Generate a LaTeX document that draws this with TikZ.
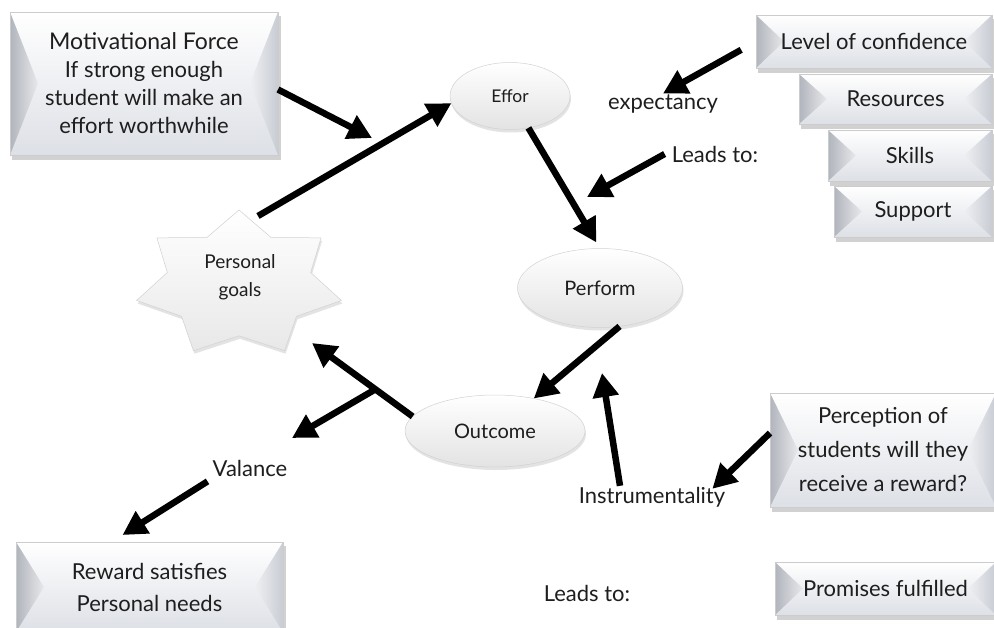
\documentclass[tikz,border=0pt]{standalone}
\usepackage{fontspec}
\setmainfont{Lato}
\usetikzlibrary{arrows.meta,shapes.geometric,shadows,calc}
\pgfdeclarelayer{background}
\pgfsetlayers{background,main}
\definecolor{txt}{HTML}{1E1E1E}
\definecolor{facebot}{HTML}{DDE0E6}
\definecolor{bevL}{HTML}{B0B4BC}
\definecolor{bevR}{HTML}{C8CCD3}
\tikzset{
 boxtxt/.style={rectangle, inner sep=0pt, outer sep=0pt, align=center, text=txt, font=\fontsize{22}{28}\selectfont},
 ell/.style={ellipse, draw=gray!35, line width=.5pt, top color=white, bottom color=gray!22, inner sep=0pt, outer sep=0pt, text=txt, font=\fontsize{20}{23}\selectfont, drop shadow={opacity=.22, shadow xshift=1pt, shadow yshift=-3pt}},
 lbl/.style={text=txt, font=\fontsize{22}{26}\selectfont, inner sep=1pt},
 arr/.style={line width=6.5pt, -{Triangle[length=24pt,width=25pt]}, black},
}
\newcommand\bevbox[6]{%
 \node[boxtxt, minimum width=#4pt, minimum height=#5pt] (#1) at (#2,#3) {#6};
 \begin{pgfonlayer}{background}
  \fill[black,opacity=.18] ([xshift=2pt,yshift=-4pt]#1.north west) rectangle ([xshift=3pt,yshift=-5pt]#1.south east);
  \shade[top color=white,bottom color=facebot] (#1.north west) rectangle (#1.south east);
  \shade[left color=bevL,right color=bevL!30!white] (#1.north west) -- ([xshift=28pt]#1.west) -- (#1.south west) -- cycle;
  \shade[left color=bevR!30!white,right color=bevR] (#1.north east) -- ([xshift=-28pt]#1.east) -- (#1.south east) -- cycle;
  \draw[gray!40,line width=.6pt] (#1.north west) rectangle (#1.south east);
 \end{pgfonlayer}}
\begin{document}
\begin{tikzpicture}[x=1pt,y=-1pt]
\useasboundingbox (0,0) rectangle (994,627);
\clip (0,0) rectangle (994,627);
\begin{pgfonlayer}{background}
\fill[white] (0,0) rectangle (994,627);
\end{pgfonlayer}

% boxes
\bevbox{mot}{144}{83.5}{268}{143}{{\fontsize{23}{28}\selectfont Motivational Force}\\If strong enough\\student will make an\\effort worthwhile}
\bevbox{conf}{874}{41.5}{236}{53}{Level of confidence}
\bevbox{res}{895.5}{99}{193}{50}{Resources}
\bevbox{skills}{910}{155.5}{164}{51}{Skills}
\bevbox{supp}{913}{211.5}{158}{51}{Support}
\bevbox{perc}{883}{450}{226}{114}{Perception of\\[6pt]students will they\\[6pt]receive a reward?}
\bevbox{prom}{885.5}{588.5}{221}{53}{Promises fulfilled}
\bevbox{rew}{149.5}{587}{267}{90}{Reward satisfies\\[4pt]Personal needs}

% star
\path[top color=white, bottom color=gray!18, draw=gray!35, line width=.5pt,
      drop shadow={opacity=.22, shadow xshift=1pt, shadow yshift=-3pt}]
  plot[samples at={0,...,13}, variable=\k]
   ({239+105*(1-0.3*mod(\k,2))*cos(90+\k*360/14)},{284-74*(1-0.3*mod(\k,2))*sin(90+\k*360/14)}) -- cycle;
\node[text=txt, align=center, font=\fontsize{19}{28}\selectfont] (star) at (240,277) {Personal\\goals};

% ellipses
\node[ell, minimum width=120pt, minimum height=67pt, font=\fontsize{17.5}{20}\selectfont] (effor) at (510,96) {Effor};
\node[ell, minimum width=165pt, minimum height=79pt] (perform) at (600,288) {Perform};
\node[ell, minimum width=180pt, minimum height=72pt] (outcome) at (495,431) {Outcome};

% labels
\node[lbl] (expect) at (663,104) {expectancy};
\node[lbl] (lead1) at (715,154) {Leads to:};
\node[lbl] (val) at (250,468) {Valance};
\node[lbl] (instr) at (652,497) {Instrumentality};
\node[lbl] (lead2) at (587,593) {Leads to:};

% free ends
\coordinate (m1) at (372,138);
\coordinate (sNE) at (258,216);
\coordinate (sSE) at (312,343);
\coordinate (l5) at (587,197);
\coordinate (i7) at (602,373);
\coordinate (v10) at (292,438);

% arrows
\draw[arr] ([yshift=-6pt]mot.east) -- (m1);
\draw[arr] (sNE) -- (effor.187);
\draw[arr, shorten <=17pt] (conf.west) -- (expect.north);
\draw[arr, shorten >=7pt] (effor.-60) -- (perform.north);
\draw[arr] ([xshift=-6pt]lead1.west) -- (l5);
\draw[arr] (perform.-63) -- (outcome.40);
\draw[arr] ([xshift=-32pt]instr.north) -- (i7);
\draw[arr] ([yshift=17pt]perc.west) -- ([xshift=-14pt,yshift=-3pt]instr.north east);
\draw[arr] (outcome.170) -- (sSE);
\draw[arr] ($(outcome.170)!0.37!(sSE)$) -- (v10);
\draw[arr] ([xshift=-4pt,yshift=-4pt]val.south west) -- ([xshift=-27pt,yshift=7pt]rew.north);
\end{tikzpicture}
\end{document}
